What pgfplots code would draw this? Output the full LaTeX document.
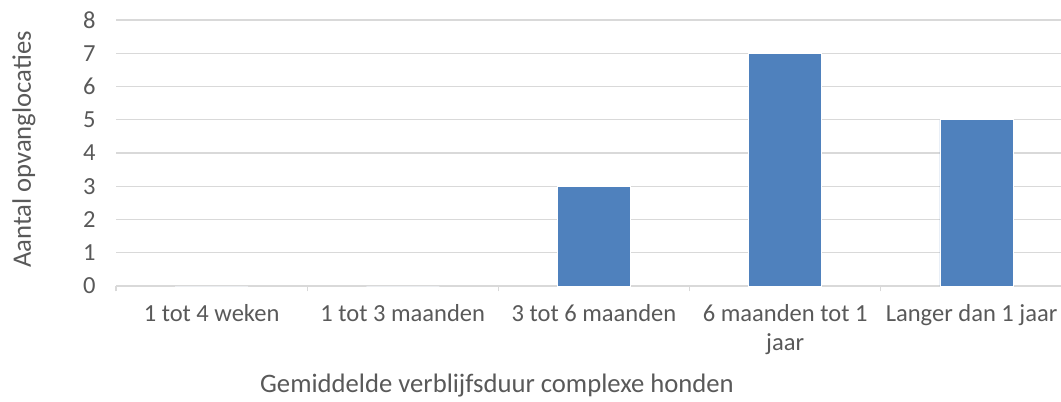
\documentclass[border=0pt]{standalone}
\usepackage{fontspec}
\setmainfont{Carlito}
\usepackage{pgfplots}
\pgfplotsset{compat=1.18}
\definecolor{barblue}{HTML}{4F81BD}
\definecolor{txtgray}{HTML}{595959}
\definecolor{gridgray}{HTML}{D9D9D9}
\begin{document}
\fontsize{18.4}{21.5}\selectfont
\begin{tikzpicture}
\begin{axis}[
  at={(87pt,86.25pt)}, anchor=south west,
  scale only axis,
  width=717pt, height=199.5pt,
  ybar, bar width=54.75pt,
  xmin=-0.5, xmax=4.5,
  ymin=0, ymax=8,
  xtick={0,...,4},
  xticklabels={1 tot 4 weken,1 tot 3 maanden,3 tot 6 maanden,{6 maanden tot 1\\jaar},\makebox[121.5pt][r]{Langer dan 1 jaar}},
  xticklabel style={align=center, text=txtgray, yshift=-7.5pt},
  minor xtick={-0.5,0.5,...,4.5},
  major tick length=0pt,
  minor tick length=4pt,
  tick align=outside,
  every minor tick/.style={gridgray, line width=0.9pt},
  ytick={0,...,8},
  yticklabel style={text=txtgray, xshift=-9pt},
  /pgf/number format/assume math mode=true,
  ymajorgrids,
  grid style={gridgray, line width=0.9pt},
  axis x line*=bottom,
  axis y line*=left,
  y axis line style={draw=none},
  x axis line style={gridgray, line width=0.9pt, -},
  tick style={gridgray},
]
\addplot[fill=barblue, draw=white, line width=0.6pt] coordinates {
  (0,0) (1,0) (2,3) (3,7) (4,5)
};
\end{axis}
\node[text=txtgray, font=\fontsize{20}{24}\selectfont] at (372.75pt,11.5pt) {Gemiddelde verblijfsduur complexe honden};
\node[text=txtgray, rotate=90, font=\fontsize{20}{24}\selectfont] at (18pt,188.6pt) {Aantal opvanglocaties};
\pgfresetboundingbox
\path[use as bounding box] (0,0) rectangle (795.75pt,300.75pt);
\end{tikzpicture}
\end{document}
